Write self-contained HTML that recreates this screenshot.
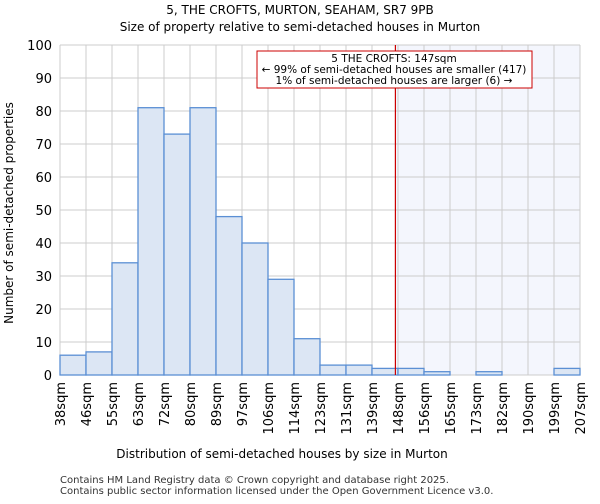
<!DOCTYPE html>
<html><head><meta charset="utf-8"><style>
body{margin:0;background:#fff;font-family:"DejaVu Sans","Liberation Sans",sans-serif}
</style></head><body>
<svg width="600" height="500" xmlns="http://www.w3.org/2000/svg" font-family="DejaVu Sans, Liberation Sans, sans-serif">
<text x="300" y="14" text-anchor="middle" font-size="12">5, THE CROFTS, MURTON, SEAHAM, SR7 9PB</text>
<text x="300" y="31" text-anchor="middle" font-size="12">Size of property relative to semi-detached houses in Murton</text>
<g id="plot"></g>
<text x="282" y="458" text-anchor="middle" font-size="12">Distribution of semi-detached houses by size in Murton</text>
<text transform="translate(13,213) rotate(-90)" text-anchor="middle" font-size="12">Number of semi-detached properties</text>
<text x="60" y="483" font-size="10" fill="#333">Contains HM Land Registry data © Crown copyright and database right 2025.</text>
<text x="60" y="494" font-size="10" fill="#333">Contains public sector information licensed under the Open Government Licence v3.0.</text>
</svg>
<script>
const binLabels=["38sqm","46sqm","55sqm","63sqm","72sqm","80sqm","89sqm","97sqm","106sqm","114sqm","123sqm","131sqm","139sqm","148sqm","156sqm","165sqm","173sqm","182sqm","190sqm","199sqm","207sqm"];
const counts=[6,7,34,81,73,81,48,40,29,11,3,3,2,2,1,0,1,0,0,2];
const yTicks=[0,10,20,30,40,50,60,70,80,90,100];
const markerBin=12.9;
const NS="http://www.w3.org/2000/svg";
const L=60,R=580,T=45,B=375,n=counts.length;
const xs=i=>L+(R-L)*i/n;
const ys=v=>B-(B-T)*v/100;
const g=document.getElementById('plot');
function mk(t,a){const e=document.createElementNS(NS,t);for(const k in a)e.setAttribute(k,a[k]);g.appendChild(e);return e;}
let e;
e=mk('rect',{x:xs(markerBin),y:T,width:R-xs(markerBin),height:B-T,fill:'#f4f6fd'});


for(const v of yTicks){
 e=mk('line',{x1:L,x2:R,y1:ys(v),y2:ys(v),stroke:'#ccc'});
 
 
 e=mk('text',{x:L-8,y:ys(v)+5,'text-anchor':'end','font-size':13});
 e.textContent=v;
 
 
}
binLabels.forEach((lab,i)=>{
 e=mk('line',{x1:xs(i),x2:xs(i),y1:T,y2:B,stroke:'#ccc'});
 
 
 e=mk('text',{transform:`translate(${xs(i)+5},382) rotate(-90)`,'text-anchor':'end','font-size':13});
 e.textContent=lab;
 
 
});
counts.forEach((c,i)=>{
 e=mk('rect',{x:xs(i),y:ys(c),width:xs(i+1)-xs(i),height:B-ys(c),fill:'#dce6f4',stroke:'#5b8fd4','stroke-width':1.3});
 
 
});
e=mk('line',{x1:xs(markerBin),x2:xs(markerBin),y1:T,y2:B,stroke:'#c00','stroke-width':1.2});


e=mk('rect',{x:257,y:51,width:275,height:37,fill:'#fff',stroke:'#c00'});


["5 THE CROFTS: 147sqm","← 99% of semi-detached houses are smaller (417)","1% of semi-detached houses are larger (6) →"].forEach((t,i)=>{
 e=mk('text',{x:394,y:62+i*11,'text-anchor':'middle','font-size':10.5});
 e.textContent=t;
 
 
});
</script>
</body></html>
